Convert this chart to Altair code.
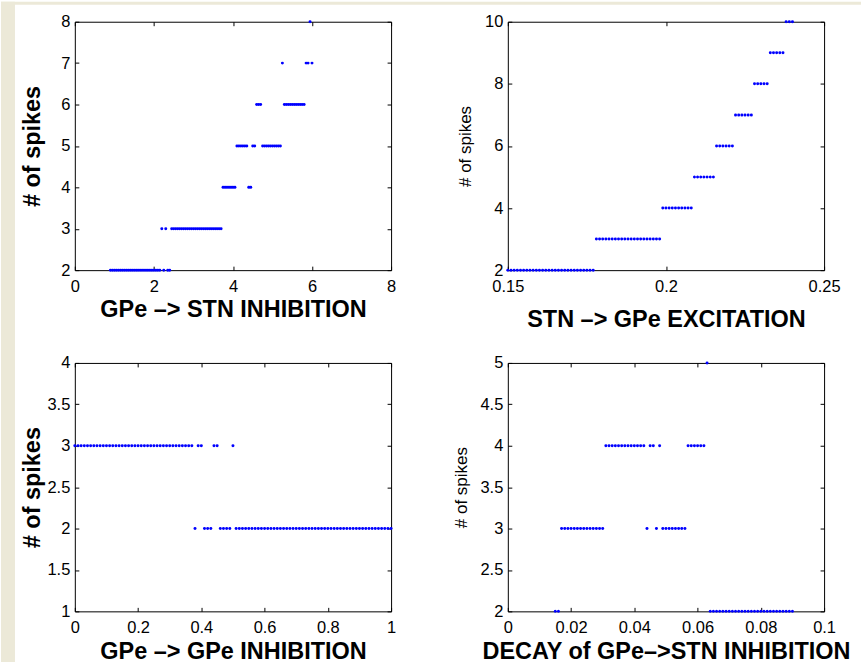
import altair as alt
import pandas as pd

# ---------------- data (x values grouped by number of spikes) ----------------
# Panel 1: GPe -> STN INHIBITION
P1_X = {
    2: [0.90, 0.95, 1.00, 1.05, 1.10, 1.15, 1.20, 1.25, 1.30, 1.35, 1.40, 1.45, 1.50,
        1.55, 1.60, 1.65, 1.70, 1.75, 1.80, 1.85, 1.90, 1.95, 2.00, 2.05, 2.10, 2.15,
        2.25, 2.35, 2.40],
    3: [2.20, 2.30, 2.45, 2.50, 2.55, 2.60, 2.65, 2.70, 2.75, 2.80, 2.85, 2.90, 2.95,
        3.00, 3.05, 3.10, 3.15, 3.20, 3.25, 3.30, 3.35, 3.40, 3.45, 3.50, 3.55, 3.60,
        3.65, 3.70],
    4: [3.75, 3.80, 3.85, 3.90, 3.95, 4.00, 4.05, 4.40, 4.45],
    5: [4.10, 4.15, 4.20, 4.25, 4.30, 4.35, 4.50, 4.55, 4.75, 4.80, 4.85, 4.90, 4.95,
        5.00, 5.05, 5.10, 5.15, 5.20],
    6: [4.60, 4.65, 4.70, 5.30, 5.35, 5.40, 5.45, 5.50, 5.55, 5.60, 5.65, 5.70, 5.75,
        5.80],
    7: [5.25, 5.85, 5.90, 6.00],
    8: [5.95],
}

# Panel 2: STN -> GPe EXCITATION
P2_X = {
    2: [0.150, 0.151, 0.152, 0.153, 0.154, 0.155, 0.156, 0.157, 0.158, 0.159, 0.160,
        0.161, 0.162, 0.163, 0.164, 0.165, 0.166, 0.167, 0.168, 0.169, 0.170, 0.171,
        0.172, 0.173, 0.174, 0.175, 0.176, 0.177],
    3: [0.178, 0.179, 0.180, 0.181, 0.182, 0.183, 0.184, 0.185, 0.186, 0.187, 0.188,
        0.189, 0.190, 0.191, 0.192, 0.193, 0.194, 0.195, 0.196, 0.197, 0.198],
    4: [0.199, 0.200, 0.201, 0.202, 0.203, 0.204, 0.205, 0.206, 0.207, 0.208],
    5: [0.209, 0.210, 0.211, 0.212, 0.213, 0.214, 0.215],
    6: [0.216, 0.217, 0.218, 0.219, 0.220, 0.221],
    7: [0.222, 0.223, 0.224, 0.225, 0.226, 0.227],
    8: [0.228, 0.229, 0.230, 0.231, 0.232],
    9: [0.233, 0.234, 0.235, 0.236, 0.237],
    10: [0.238, 0.239, 0.240],
}

# Panel 3: GPe -> GPe INHIBITION
P3_X = {
    3: [0.00, 0.01, 0.02, 0.03, 0.04, 0.05, 0.06, 0.07, 0.08, 0.09, 0.10, 0.11, 0.12,
        0.13, 0.14, 0.15, 0.16, 0.17, 0.18, 0.19, 0.20, 0.21, 0.22, 0.23, 0.24, 0.25,
        0.26, 0.27, 0.28, 0.29, 0.30, 0.31, 0.32, 0.33, 0.34, 0.35, 0.36, 0.37,
        0.39, 0.40, 0.44, 0.45, 0.50],
    2: [0.38, 0.41, 0.42, 0.43, 0.46, 0.47, 0.48, 0.49,
        0.51, 0.52, 0.53, 0.54, 0.55, 0.56, 0.57, 0.58, 0.59, 0.60, 0.61, 0.62, 0.63,
        0.64, 0.65, 0.66, 0.67, 0.68, 0.69, 0.70, 0.71, 0.72, 0.73, 0.74, 0.75, 0.76,
        0.77, 0.78, 0.79, 0.80, 0.81, 0.82, 0.83, 0.84, 0.85, 0.86, 0.87, 0.88, 0.89,
        0.90, 0.91, 0.92, 0.93, 0.94, 0.95, 0.96, 0.97, 0.98, 0.99, 1.00],
}

# Panel 4: DECAY of GPe->STN INHIBITION
P4_X = {
    2: [0.015, 0.016,
        0.064, 0.065, 0.066, 0.067, 0.068, 0.069, 0.070, 0.071, 0.072, 0.073, 0.074,
        0.075, 0.076, 0.077, 0.078, 0.079, 0.080, 0.081, 0.082, 0.083, 0.084, 0.085,
        0.086, 0.087, 0.088, 0.089, 0.090],
    3: [0.017, 0.018, 0.019, 0.020, 0.021, 0.022, 0.023, 0.024, 0.025, 0.026, 0.027,
        0.028, 0.029, 0.030, 0.044, 0.047,
        0.049, 0.050, 0.051, 0.052, 0.053, 0.054, 0.055, 0.056],
    4: [0.031, 0.032, 0.033, 0.034, 0.035, 0.036, 0.037, 0.038, 0.039, 0.040, 0.041,
        0.042, 0.043, 0.045, 0.046, 0.048,
        0.057, 0.058, 0.059, 0.060, 0.061, 0.062],
    5: [0.063],
}

# axis ticks / titles
P1_XTICKS = [0, 2, 4, 6, 8]
P1_YTICKS = [2, 3, 4, 5, 6, 7, 8]
P2_XTICKS = [0.15, 0.2, 0.25]
P2_YTICKS = [2, 4, 6, 8, 10]
P3_XTICKS = [0, 0.2, 0.4, 0.6, 0.8, 1]
P3_YTICKS = [1, 1.5, 2, 2.5, 3, 3.5, 4]
P4_XTICKS = [0, 0.02, 0.04, 0.06, 0.08, 0.1]
P4_YTICKS = [2, 2.5, 3, 3.5, 4, 4.5, 5]

TITLES_X = ["GPe \u2013> STN INHIBITION", "STN \u2013> GPe EXCITATION",
            "GPe \u2013> GPe INHIBITION", "DECAY of GPe\u2013>STN INHIBITION"]
TITLE_Y = "# of spikes"

W, H = 317, 249
BLUE = "#0000ff"
BEIGE = "#ECE9D8"
FONT = "Liberation Sans"
TICK = {"expr": "-4"}
BIG = 23.5
SMALL = 17


def to_df(groups):
    rows = []
    for lvl, xs in groups.items():
        for xv in xs:
            rows.append({"x": xv, "y": lvl})
    return pd.DataFrame(rows)


def panel(groups, xdom, xticks, xfmt, ydom, yticks, yfmt, xtitle, xtitle_y,
          ytitle_bold, ytitle_x, extra=None):
    df = to_df(groups)
    xs = alt.Scale(domain=xdom, nice=False, zero=False)
    ys = alt.Scale(domain=ydom, nice=False, zero=False)
    bottom = alt.Axis(orient="bottom", values=xticks, format=xfmt, title=xtitle,
                      tickSize=TICK, labelPadding=12, labelFlush=False,
                      labelOverlap=False, titleX=W / 2, titleY=xtitle_y,
                      titleBaseline="top", titleFontSize=BIG, titleFontWeight="bold")
    left = alt.Axis(orient="left", values=yticks, format=yfmt, title=TITLE_Y,
                    tickSize=TICK, labelPadding=9, labelFlush=False,
                    labelOverlap=False, titleX=ytitle_x, titleY=H / 2,
                    titleFontSize=BIG if ytitle_bold else SMALL,
                    titleFontWeight="bold" if ytitle_bold else "normal")
    top = alt.Axis(orient="top", values=xticks, labels=False, title=None,
                   tickSize=TICK)
    right = alt.Axis(orient="right", values=yticks, labels=False, title=None,
                     tickSize=TICK)
    ghost = alt.Chart(df).mark_circle(opacity=0).encode(
        x=alt.X("x:Q", scale=xs, axis=top),
        y=alt.Y("y:Q", scale=ys, axis=right),
    )
    pts = alt.Chart(df).mark_circle(size=9, color=BLUE, opacity=1).encode(
        x=alt.X("x:Q", scale=xs, axis=bottom),
        y=alt.Y("y:Q", scale=ys, axis=left),
    )
    layers = ([] if extra is None else extra) + [pts, ghost]
    return alt.layer(*layers).resolve_axis(x="independent", y="independent") \
        .properties(width=W, height=H)


one = pd.DataFrame({"k": [0]})
strip_left = alt.Chart(one).mark_rect(color=BEIGE).encode(
    x=alt.value(-74), x2=alt.value(-60), y=alt.value(-20), y2=alt.value(642))
strip_top = alt.Chart(one).mark_rect(color=BEIGE).encode(
    x=alt.value(-74), x2=alt.value(788), y=alt.value(-20), y2=alt.value(-17))

p1 = panel(P1_X, [0, 8], P1_XTICKS, "d", [2, 8], P1_YTICKS, "d",
           TITLES_X[0], 27, True, -30, extra=[strip_left, strip_top])
p2 = panel(P2_X, [0.15, 0.25], P2_XTICKS, ".2~f", [2, 10], P2_YTICKS, "d",
           TITLES_X[1], 37, False, -33)
p3 = panel(P3_X, [0, 1], P3_XTICKS, ".1~f", [1, 4], P3_YTICKS, ".1~f",
           TITLES_X[2], 28, True, -30)
p4 = panel(P4_X, [0, 0.1], P4_XTICKS, ".2~f", [2, 5], P4_YTICKS, ".1~f",
           TITLES_X[3], 28, False, -37)

chart = alt.concat(p1, p2, p3, p4, columns=2,
                   spacing={"row": 93, "column": 117}, bounds="flush") \
    .properties(padding=0, background="white") \
    .configure_view(stroke="black", strokeWidth=1) \
    .configure_axis(labelFont=FONT, labelFontSize=16.5, labelColor="black",
                    titleFont=FONT, titleColor="black", tickColor="black",
                    tickWidth=1, domain=False, grid=False)

chart.save("out.html", embed_options={"renderer": "svg", "actions": False})
